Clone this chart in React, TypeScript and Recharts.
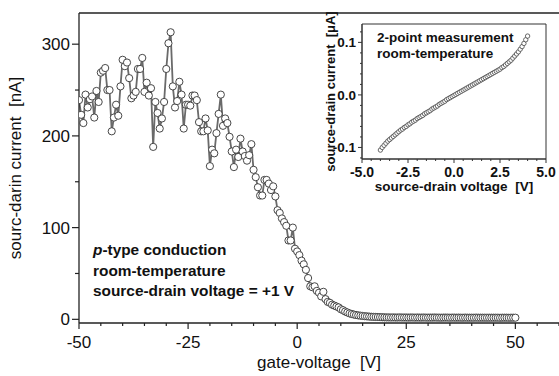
import { ComposedChart, Line, XAxis, YAxis, ReferenceLine, ReferenceArea } from 'recharts'

const FONT = '"Liberation Sans", Arial, sans-serif'

// main plot: gate sweep, 0.5 V step
const gateVoltage = Array.from({ length: 201 }, (_, i) => -50 + i * 0.5)
const drainCurrent = [
  239, 223, 214, 245, 231, 240, 243, 220, 249, 237,
  269, 271, 274, 250, 250, 205, 220, 234, 222, 254,
  283, 276, 280, 263, 241, 244, 248, 273, 273, 285,
  248, 258, 244, 252, 188, 237, 225, 208, 219, 237,
  273, 301, 313, 254, 231, 238, 259, 245, 208, 234,
  234, 233, 244, 244, 239, 215, 205, 205, 219, 206,
  167, 185, 181, 203, 224, 245, 211, 219, 214, 199,
  183, 166, 185, 177, 197, 183, 178, 173, 179, 191,
  163, 155, 144, 135, 135, 152, 152, 148, 141, 145,
  134, 119, 116, 110, 106, 102, 86, 86, 100, 77,
  74, 70, 64, 60, 54, 45, 36, 35, 36, 31,
  29, 25, 30, 22, 19, 18, 16, 15, 14, 13,
  11, 10, 8.5, 7.5, 6.5, 5.8, 5.2, 4.7, 4.3, 4.0,
  3.7, 3.4, 3.2, 3.0, 2.8, 2.7, 2.6, 2.5, 2.4, 2.3,
  2.2, 2.1, 2.1, 2.0, 2.1, 2.0, 2.0, 2.1, 2.0, 2.0,
  2.0, 1.9, 2.0, 2.0, 1.9, 2.0, 1.9, 1.9, 2.0, 1.9,
  1.9, 1.9, 1.9, 2.0, 1.9, 1.9, 1.8, 1.9, 1.9, 1.9,
  1.8, 1.9, 1.9, 1.8, 1.9, 1.8, 1.8, 1.9, 1.8, 1.8,
  1.8, 1.8, 1.9, 1.8, 1.8, 1.8, 1.8, 1.8, 1.8, 1.8,
  1.8, 1.8, 1.8, 1.7, 1.8, 1.8, 1.8, 1.7, 1.8, 1.8,
  1.8,
]

// inset: 2-point I-V
const sdVoltage = Array.from({ length: 81 }, (_, i) => Math.round((-4 + i * 0.1) * 10) / 10)
const sdCurrent = [
  -0.105, -0.100, -0.096, -0.092, -0.088, -0.085, -0.082, -0.079, -0.076, -0.073,
  -0.070, -0.067, -0.065, -0.062, -0.060, -0.057, -0.055, -0.052, -0.050, -0.048,
  -0.045, -0.043, -0.041, -0.039, -0.036, -0.034, -0.032, -0.030, -0.027, -0.025,
  -0.023, -0.021, -0.018, -0.016, -0.014, -0.012, -0.009, -0.007, -0.005, -0.003,
  -0.001, 0.001, 0.003, 0.005, 0.007, 0.009, 0.011, 0.013, 0.015, 0.017,
  0.019, 0.021, 0.023, 0.025, 0.027, 0.029, 0.031, 0.033, 0.035, 0.037,
  0.039, 0.041, 0.043, 0.045, 0.047, 0.049, 0.052, 0.054, 0.057, 0.060,
  0.063, 0.066, 0.070, 0.074, 0.078, 0.082, 0.087, 0.092, 0.098, 0.105,
  0.112,
]

const mainXTicks = [-50, -45, -40, -35, -30, -25, -20, -15, -10, -5, 0, 5, 10, 15, 20, 25, 30, 35, 40, 45, 50, 55, 60]
const mainXLabels = [-50, -25, 0, 25, 50]
const mainYTicks = [0, 50, 100, 150, 200, 250, 300]
const mainYLabels = [0, 100, 200, 300]
const insetXTicks = [-5, -4.5, -4, -3.5, -3, -2.5, -2, -1.5, -1, -0.5, 0, 0.5, 1, 1.5, 2, 2.5, 3, 3.5, 4, 4.5, 5]
const insetXLabels = [-5, -2.5, 0, 2.5, 5]
const insetYTicks = [-0.12, -0.1, -0.08, -0.06, -0.04, -0.02, 0, 0.02, 0.04, 0.06, 0.08, 0.1, 0.12]
const insetYLabels = [-0.1, 0, 0.1]

const mainData = gateVoltage.map((v, k) => ({ v, i: drainCurrent[k] }))
const insetData = sdVoltage.map((v, k) => ({ v, i: sdCurrent[k] }))

const isIn = (list: number[], val: number) => list.some((l) => Math.abs(l - val) < 1e-9)

const MainXTick = ({ x, y, payload }: any) => {
  const major = isIn(mainXLabels, payload.value)
  return (
    <g>
      <line x1={x} x2={x} y1={y} y2={y + (major ? 6 : 3)} stroke="#222" strokeWidth={1.2} />
      {major && (
        <text x={x} y={y + 25} textAnchor="middle" fontSize={17} fontFamily={FONT} fill="#111">
          {payload.value}
        </text>
      )}
    </g>
  )
}

const MainYTick = ({ x, y, payload }: any) => {
  const major = isIn(mainYLabels, payload.value)
  return (
    <g>
      <line x1={x} x2={x - (major ? 7 : 4)} y1={y} y2={y} stroke="#222" strokeWidth={1.2} />
      {major && (
        <text x={x - 9} y={y + 6} textAnchor="end" fontSize={17} fontFamily={FONT} fill="#111">
          {payload.value}
        </text>
      )}
    </g>
  )
}

const InsetXTick = ({ x, y, payload }: any) => {
  const major = isIn(insetXLabels, payload.value)
  return (
    <g>
      <line x1={x} x2={x} y1={y} y2={y + (major ? 4 : 2)} stroke="#333" />
      {major && (
        <text x={x} y={y + 18} textAnchor="middle" fontSize={14} fontWeight="bold" fontFamily={FONT} fill="#111">
          {payload.value.toFixed(1)}
        </text>
      )}
    </g>
  )
}

const InsetYTick = ({ x, y, payload }: any) => {
  const major = isIn(insetYLabels, payload.value)
  return (
    <g>
      <line x1={x} x2={x - (major ? 4 : 2)} y1={y} y2={y} stroke="#333" />
      {major && (
        <text x={x - 6} y={y + 5} textAnchor="end" fontSize={13.5} fontWeight="bold" fontFamily={FONT} fill="#111">
          {payload.value.toFixed(1)}
        </text>
      )}
    </g>
  )
}

export default function App() {
  return (
    <div style={{ position: 'absolute', left: 0, top: 0, width: 559, height: 376, overflow: 'hidden', background: '#fff' }}>
      <ComposedChart width={559} height={376} data={mainData} margin={{ top: 13, right: 0, bottom: 0, left: 0 }}>
        <XAxis
          dataKey="v"
          type="number"
          domain={[-50, 60]}
          allowDataOverflow
          ticks={mainXTicks}
          interval={0}
          tickSize={0}
          tickMargin={0}
          tickLine={false}
          tick={MainXTick}
          height={53}
          axisLine={{ stroke: '#222', strokeWidth: 1.3 }}
          label={{ value: 'gate-voltage\u00a0 [V]', position: 'insideBottom', offset: 8, style: { fontSize: 17, fontFamily: FONT, fill: '#111' } }}
        />
        <YAxis
          type="number"
          domain={[-4, 334]}
          allowDataOverflow
          ticks={mainYTicks}
          interval={0}
          tickSize={0}
          tickMargin={0}
          tickLine={false}
          tick={MainYTick}
          width={79}
          axisLine={{ stroke: '#222', strokeWidth: 1.3 }}
          label={{ value: 'sourc-darin current\u00a0 [nA]', angle: -90, position: 'insideLeft', offset: 15, style: { textAnchor: 'middle', fontSize: 17, fontFamily: FONT, fill: '#111' } }}
        />
        <ReferenceLine y={334} stroke="#222" strokeWidth={1.3} />
        <Line
          dataKey="i"
          stroke="#6a6a6a"
          strokeWidth={1.8}
          dot={{ r: 3.6, fill: '#fff', stroke: '#333', strokeWidth: 0.9 }}
          isAnimationActive={false}
        />
      </ComposedChart>

      <div style={{ position: 'absolute', left: 93, top: 240, fontFamily: FONT, fontWeight: 'bold', fontSize: 15.4, lineHeight: '20.5px', color: '#111', whiteSpace: 'pre' }}>
        <div><i>p</i>-type conduction</div>
        <div>room-temperature</div>
        <div>source-drain voltage = +1 V</div>
      </div>

      <div style={{ position: 'absolute', left: 300, top: 0 }}>
        <ComposedChart width={259} height={200} data={insetData} margin={{ top: 24, right: 13, bottom: 0, left: 0 }}>
          <XAxis
            dataKey="v"
            type="number"
            domain={[-5, 5]}
            allowDataOverflow
            ticks={insetXTicks}
            interval={0}
            tickSize={0}
            tickMargin={0}
            tickLine={false}
            tick={InsetXTick}
            height={41}
            axisLine={{ stroke: '#333' }}
            label={{ value: 'source-drain voltage\u00a0 [V]', position: 'insideBottom', offset: 9, style: { fontSize: 13.5, fontWeight: 'bold', fontFamily: FONT, fill: '#111' } }}
          />
          <YAxis
            type="number"
            domain={[-0.122, 0.135]}
            allowDataOverflow
            ticks={insetYTicks}
            interval={0}
            tickSize={0}
            tickMargin={0}
            tickLine={false}
            tick={InsetYTick}
            width={62}
            axisLine={{ stroke: '#333' }}
            label={{ value: 'source-drain current\u00a0 [\u03bcA]', angle: -90, position: 'insideLeft', offset: 30, style: { textAnchor: 'middle', fontSize: 13, fontWeight: 'bold', fontFamily: FONT, fill: '#111' } }}
          />
          <ReferenceArea x1={-5} x2={5} y1={-0.122} y2={0.135} fill="none" stroke="#333" strokeOpacity={1} />
          <Line
            dataKey="i"
            stroke="none"
            dot={{ r: 2.2, fill: '#fff', stroke: '#444', strokeWidth: 0.8 }}
            isAnimationActive={false}
          />
        </ComposedChart>
        <div style={{ position: 'absolute', left: 77, top: 30, fontFamily: FONT, fontWeight: 'bold', fontSize: 13.5, lineHeight: '16px', color: '#111', whiteSpace: 'pre' }}>
          <div>2-point measurement</div>
          <div>room-temperature</div>
        </div>
      </div>
    </div>
  )
}
